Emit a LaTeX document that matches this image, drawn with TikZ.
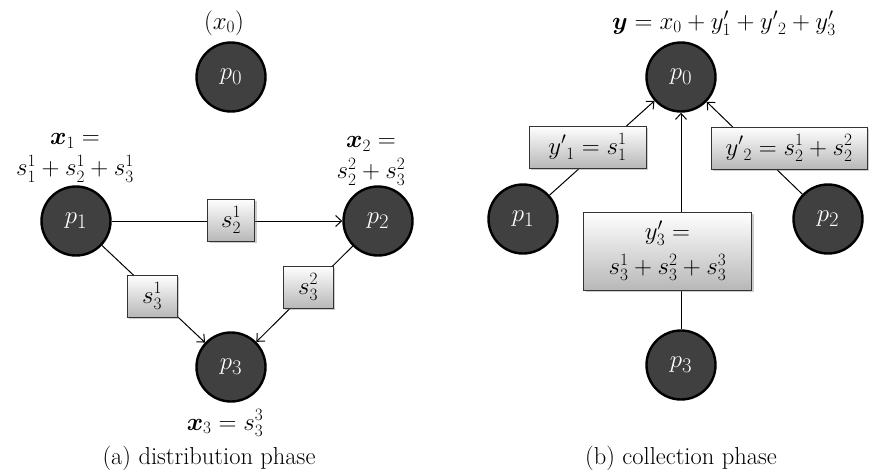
\documentclass[tikz,border=0pt]{standalone}
\usepackage{amsmath,bm}
\usetikzlibrary{shadows,arrows.meta}
\begin{document}
\begin{tikzpicture}[x=1pt,y=-1pt,
 proc/.style={circle, draw=black, line width=2.4pt, fill=black!75, minimum size=69pt, inner sep=0pt, text=white, font=\fontsize{31}{33}\selectfont},
 msg/.style={draw=black!80, line width=0.7pt, top color=white, bottom color=black!28, drop shadow={shadow xshift=2pt, shadow yshift=-2pt, opacity=0.4}, inner sep=0pt, align=center, font=\fontsize{25.5}{31}\selectfont},
 lbl/.style={font=\fontsize{25.5}{31}\selectfont, align=center, inner sep=0pt},
 captext/.style={font=\fontsize{24.5}{28}\selectfont, inner sep=0pt},
 link/.style={line width=1pt},
 arr/.style={link, -{Straight Barb[length=6pt,width=11pt]}}
]
\useasboundingbox (0,0) rectangle (870,469);
% ---------- (a) distribution phase ----------
\node[proc] (a0) at (231,77) {$p_0$};
\node[proc] (a1) at (76,221) {$p_1$};
\node[proc] (a2) at (378,221) {$p_2$};
\node[proc] (a3) at (231,367) {$p_3$};
\draw[arr] (a1) -- (a2);
\draw[arr] (a1) -- (a3);
\draw[arr] (a2) -- (a3);
\node[msg, minimum width=47pt, minimum height=42pt] (m21) at (231,220) {$s_2^1$};
\node[msg, minimum width=50pt, minimum height=42pt] (m31) at (152,296) {$s_3^1$};
\node[msg, minimum width=50pt, minimum height=42pt] (m32) at (308,287) {$s_3^2$};
\node[lbl] (l0) at (224,23) {$(x_0)$};
\node[lbl] (l1) at (75,158) {$\bm{x}_1 =$\\$s_1^1+s_2^1+s_3^1$};
\node[lbl] (l2) at (371,161) {$\bm{x}_2 =$\\$s_2^2+s_3^2$};
\node[lbl] (l3) at (225,423) {$\bm{x}_3 = s_3^3$};
\node[captext] (ca) at (209,458) {(a) distribution phase};
% ---------- (b) collection phase ----------
\node[proc] (b0) at (681,77) {$p_0$};
\node[proc] (b1) at (523,219) {$p_1$};
\node[proc] (b2) at (828,219) {$p_2$};
\node[proc] (b3) at (681,365) {$p_3$};
\draw[arr] (b1) -- (b0);
\draw[arr] (b2) -- (b0);
\draw[arr] (b3) -- (b0);
\node[msg, minimum width=117pt, minimum height=42pt] (y1) at (587.5,147) {${y'}_1 = s_1^1$};
\node[msg, minimum width=156pt, minimum height=42pt] (y2) at (789,148) {${y'}_2 = s_2^1 + s_2^2$};
\node[msg, minimum width=168pt, minimum height=78pt] (y3) at (667.5,251) {$y_3' =$\\[4pt]$s_3^1+s_3^2+s_3^3$};
\node[lbl] (ly) at (724,23) {$\bm{y} = x_0 + y_1' + {y'}_2 + y_3'$};
\node[captext] (cb) at (681,458) {(b) collection phase};
\end{tikzpicture}
\end{document}
